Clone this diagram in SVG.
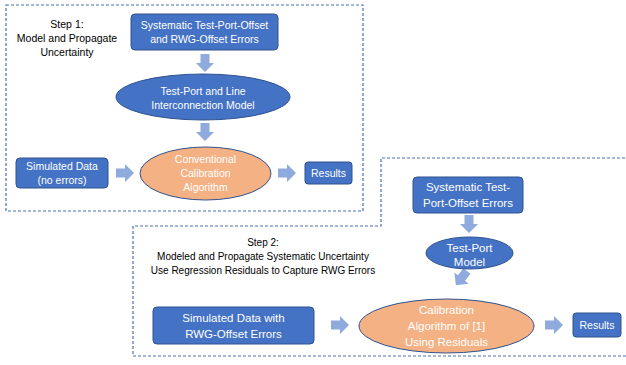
<svg xmlns="http://www.w3.org/2000/svg" xmlns:xlink="http://www.w3.org/1999/xlink" width="626" height="365" viewBox="0 0 626 365">
<style>
.bg{fill:#ffffff}
.frame{fill:none;stroke:#4A6FB5;stroke-width:1.2;stroke-dasharray:3 2}
.box{fill:#4472C4;stroke:#2F528F;stroke-width:1}
.oval{fill:#4472C4;stroke:#2F528F;stroke-width:1}
.calc{fill:#F4B183;stroke:#2F528F;stroke-width:1}
.arw{fill:#8FAADC}
text{font-family:"Liberation Sans",Arial,sans-serif;font-size:10.5px;text-anchor:middle}
.w{fill:#ffffff}
.b{font-size:11.5px}
.k{fill:#000000;font-size:10px}
.k1{font-size:10.5px}
</style>
<defs>
<path id="ar" d="M0,-4.5 L9,-4.5 L9,-9 L18,0 L9,9 L9,4.5 L0,4.5 Z"/>
</defs>
<rect class="bg" x="0" y="0" width="626" height="365"/>
<g id="frames">
<rect class="frame" x="6" y="5" width="357" height="206"/>
<path class="frame" d="M630,158 L381,158 L381,226 L133,226 L133,356 L630,356"/>
</g>
<g id="connectors" class="arw">
<use xlink:href="#ar" transform="translate(205,54) rotate(90)"/>
<use xlink:href="#ar" transform="translate(205,123) rotate(90)"/>
<use xlink:href="#ar" transform="translate(116,173)"/>
<use xlink:href="#ar" transform="translate(278,173)"/>
<use xlink:href="#ar" transform="translate(469,215) rotate(90)"/>
<use xlink:href="#ar" transform="translate(467,271) rotate(128)"/>
<use xlink:href="#ar" transform="translate(331,325)"/>
<use xlink:href="#ar" transform="translate(545,325)"/>
</g>
<g id="step1-label">
<text class="k k1" x="67" y="28">Step 1:</text>
<text class="k k1" x="67" y="42">Model and Propagate</text>
<text class="k k1" x="67" y="56">Uncertainty</text>
</g>
<g id="s1-errors">
<rect class="box" x="131" y="14" width="147" height="36" rx="4"/>
<text class="w" x="204.5" y="29">Systematic Test-Port-Offset</text>
<text class="w" x="204.5" y="43">and RWG-Offset Errors</text>
</g>
<g id="s1-model">
<ellipse class="oval" cx="203" cy="97" rx="87" ry="23"/>
<text class="w" x="203" y="95">Test-Port and Line</text>
<text class="w" x="203" y="109">Interconnection Model</text>
</g>
<g id="s1-sim">
<rect class="box" x="16" y="158" width="92" height="30" rx="4"/>
<text class="w" x="62" y="170">Simulated Data</text>
<text class="w" x="62" y="184">(no errors)</text>
</g>
<g id="s1-calc">
<ellipse class="calc" cx="205.5" cy="173.5" rx="65.5" ry="26.5"/>
<text class="w" x="205.5" y="163">Conventional</text>
<text class="w" x="205.5" y="177">Calibration</text>
<text class="w" x="205.5" y="191">Algorithm</text>
</g>
<g id="s1-results">
<rect class="box" x="305" y="162" width="47" height="22" rx="3"/>
<text class="w" x="328.5" y="177">Results</text>
</g>
<g id="step2-label">
<text class="k" x="263" y="246">Step 2:</text>
<text class="k" x="263" y="260">Modeled and Propagate Systematic Uncertainty</text>
<text class="k" x="263" y="274">Use Regression Residuals to Capture RWG Errors</text>
</g>
<g id="s2-errors">
<rect class="box" x="413" y="177" width="110" height="36" rx="4"/>
<text class="w b" x="468" y="191">Systematic Test-</text>
<text class="w b" x="468" y="207">Port-Offset Errors</text>
</g>
<g id="s2-model">
<ellipse class="oval" cx="469.5" cy="253" rx="43.5" ry="16"/>
<text class="w b" x="469.5" y="252">Test-Port</text>
<text class="w b" x="469.5" y="266">Model</text>
</g>
<g id="s2-sim">
<rect class="box" x="153" y="307" width="161" height="37" rx="4"/>
<text class="w b" x="233.5" y="322">Simulated Data with</text>
<text class="w b" x="233.5" y="338">RWG-Offset Errors</text>
</g>
<g id="s2-calc">
<ellipse class="calc" cx="446.5" cy="326" rx="87.5" ry="27"/>
<text class="w b" x="446.5" y="314">Calibration</text>
<text class="w b" x="446.5" y="330">Algorithm of [1]</text>
<text class="w b" x="446.5" y="346">Using Residuals</text>
</g>
<g id="s2-results">
<rect class="box" x="573" y="313" width="48" height="24" rx="3"/>
<text class="w" x="597" y="329">Results</text>
</g>
</svg>
